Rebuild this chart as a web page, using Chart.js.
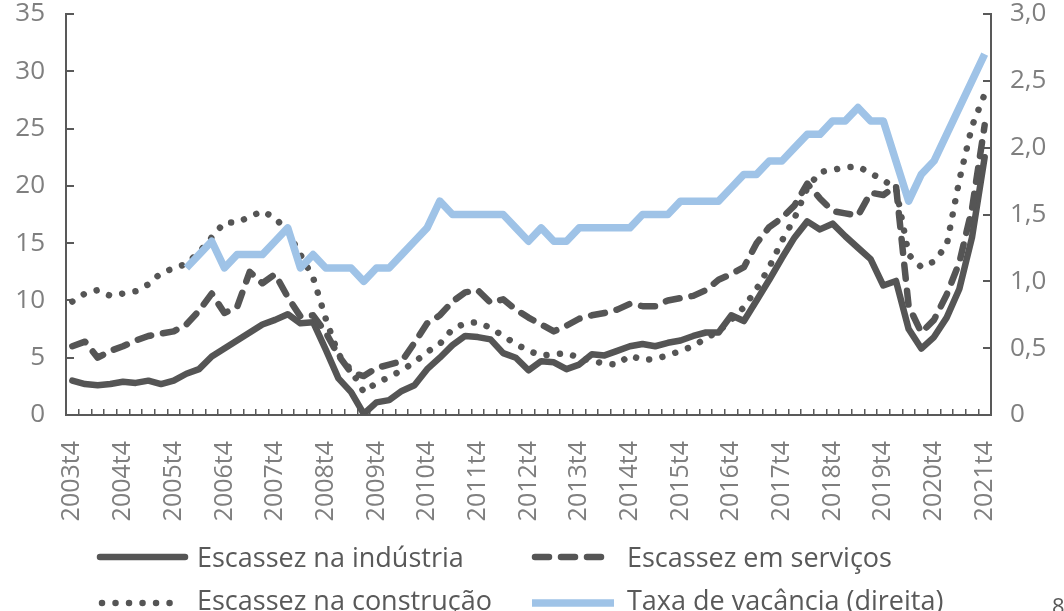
<!DOCTYPE html>
<html lang="pt">
<head>
<meta charset="utf-8">
<title>Escassez de mão de obra e taxa de vacância</title>
<script src="https://cdn.jsdelivr.net/npm/chart.js@4.4.1/dist/chart.umd.min.js"></script>
<style>
  html, body { margin: 0; padding: 0; background: #fff; overflow: hidden; }
  #wrap { position: relative; width: 1064px; height: 611px; overflow: hidden; }
  #chart { position: absolute; left: 0; top: 0; }
  .lg-text { position: absolute; font-family: 'Open Sans', sans-serif; font-size: 27px; line-height: 30px; color: #595959; white-space: nowrap; }
  .lg-line { position: absolute; }
  #pagenum { position: absolute; left: 1052px; top: 590px; font-family: 'Open Sans', sans-serif; font-size: 22px; color: #595959; }
</style>
</head>
<body>
<div id="wrap">
  <canvas id="chart" width="1064" height="611"></canvas>
  <div id="legend"></div>
  <div id="pagenum">8</div>
</div>
<script>
// rótulos trimestrais 2003t4 ... 2021t4
const quarters = [];
for (let y = 2003; y <= 2021; y++) {
  for (let q = 1; q <= 4; q++) {
    if (y === 2003 && q < 4) continue;
    quarters.push(y + 't' + q);
  }
}

// eixo esquerdo (%)
const industria = [3.0, 2.7, 2.6, 2.7, 2.9, 2.8, 3.0, 2.7, 3.0, 3.6,
  4.0, 5.1, 5.8, 6.5, 7.2, 7.9, 8.3, 8.8, 8.0, 8.1,
  5.7, 3.2, 2.0, 0.1, 1.1, 1.3, 2.1, 2.6, 4.0, 5.0,
  6.1, 6.9, 6.8, 6.6, 5.4, 5.0, 3.9, 4.7, 4.6, 4.0,
  4.4, 5.3, 5.2, 5.6, 6.0, 6.2, 6.0, 6.3, 6.5, 6.9,
  7.2, 7.2, 8.7, 8.2, 10.0, 11.8, 13.7, 15.5, 16.9, 16.2,
  16.7, 15.6, 14.6, 13.6, 11.3, 11.7, 7.5, 5.8, 6.8, 8.5,
  11.0, 15.5, 22.5];

const servicos = [6.0, 6.4, 5.0, 5.6, 6.0, 6.5, 6.9, 7.1, 7.3, 7.9,
  9.1, 10.6, 8.9, 9.4, 12.5, 11.5, 12.3, 10.3, 8.6, 8.7,
  7.2, 5.2, 3.7, 3.4, 4.1, 4.4, 4.7, 6.3, 8.0, 8.7,
  9.9, 10.7, 10.9, 9.8, 10.1, 9.2, 8.5, 7.9, 7.3, 7.8,
  8.4, 8.7, 8.9, 9.2, 9.7, 9.5, 9.5, 10.0, 10.2, 10.4,
  10.9, 11.8, 12.3, 12.9, 15.0, 16.4, 17.2, 18.3, 20.2, 18.9,
  17.8, 17.6, 17.4, 19.4, 19.2, 20.0, 9.5, 7.2, 8.3, 10.5,
  13.3, 18.0, 25.3];

const construcao = [9.9, 10.6, 10.9, 10.4, 10.6, 10.8, 11.4, 12.4, 12.8, 13.2,
  14.2, 15.5, 16.8, 16.8, 17.3, 17.8, 17.2, 16.0, 14.0, 12.0,
  8.4, 5.3, 3.9, 2.0, 2.8, 3.3, 3.9, 4.6, 5.5, 6.2,
  7.5, 8.0, 8.1, 7.6, 6.9, 6.2, 5.6, 5.2, 5.3, 5.4,
  5.0, 4.7, 4.5, 4.4, 5.2, 4.8, 4.9, 5.2, 5.6, 6.0,
  6.7, 7.3, 8.3, 9.4, 11.0, 12.9, 15.2, 17.2, 19.8, 21.2,
  21.4, 21.6, 21.7, 21.1, 20.5, 19.8, 14.0, 12.9, 13.4, 14.8,
  20.5, 25.2, 28.0];

// eixo direito (%)
const vacancia = [null, null, null, null, null, null, null, null, null, 1.1,
  1.2, 1.3, 1.1, 1.2, 1.2, 1.2, 1.3, 1.4, 1.1, 1.2,
  1.1, 1.1, 1.1, 1.0, 1.1, 1.1, 1.2, 1.3, 1.4, 1.6,
  1.5, 1.5, 1.5, 1.5, 1.5, 1.4, 1.3, 1.4, 1.3, 1.3,
  1.4, 1.4, 1.4, 1.4, 1.4, 1.5, 1.5, 1.5, 1.6, 1.6,
  1.6, 1.6, 1.7, 1.8, 1.8, 1.9, 1.9, 2.0, 2.1, 2.1,
  2.2, 2.2, 2.3, 2.2, 2.2, 1.9, 1.6, 1.8, 1.9, 2.1,
  2.3, 2.5, 2.7];

const DARK = '#555555';
const BLUE = '#9fc3e7';
const AXIS = '#595959';
const TICK_TXT = '#7f7f7f';

const datasets = [
  { label: 'Escassez na indústria', data: industria, yAxisID: 'y',
    borderColor: DARK, borderWidth: 6.5, borderJoinStyle: 'round', borderCapStyle: 'round', order: 4 },
  { label: 'Escassez em serviços', data: servicos, yAxisID: 'y',
    borderColor: DARK, borderWidth: 6.5, borderDash: [14, 12], borderCapStyle: 'round', borderJoinStyle: 'round', order: 3 },
  { label: 'Escassez na construção', data: construcao, yAxisID: 'y',
    borderColor: DARK, borderWidth: 6.5, borderDash: [0.01, 13.5], borderCapStyle: 'round', borderJoinStyle: 'round', order: 2 },
  { label: 'Taxa de vacância (direita)', data: vacancia, yAxisID: 'y1',
    borderColor: BLUE, borderWidth: 7.5, borderJoinStyle: 'round', borderCapStyle: 'butt', order: 1 }
];

const tickFont = { family: "'Open Sans', sans-serif", size: 26, lineHeight: 1 };

// tira o espaço extra que o Chart.js reserva acima/abaixo dos eixos verticais
function fixVertical(width) {
  return s => { s.width = width; s.paddingTop = 0; s.paddingBottom = 0; };
}

new Chart(document.getElementById('chart').getContext('2d'), {
  type: 'line',
  data: { labels: quarters, datasets: datasets },
  options: {
    responsive: false,
    animation: false,
    devicePixelRatio: 1,
    layout: { padding: { top: 14, bottom: 81, left: 0, right: 0 } },
    plugins: { legend: { display: false }, tooltip: { enabled: false } },
    elements: { point: { radius: 0 }, line: { tension: 0, fill: false } },
    scales: {
      x: {
        type: 'category',
        offset: true,
        grid: { offset: true, drawOnChartArea: false, tickLength: -6, color: AXIS, lineWidth: 1.5 },
        border: { display: true, color: AXIS, width: 2 },
        ticks: {
          autoSkip: false, maxRotation: 90, minRotation: 90, padding: 32,
          color: TICK_TXT, font: { family: "'Open Sans', sans-serif", size: 25 },
          callback: function(v, i) { const l = quarters[i]; return l.endsWith('t4') ? l : ''; }
        },
        afterFit: s => { s.height = 115; }
      },
      y: {
        position: 'left', min: 0, max: 35,
        grid: { drawOnChartArea: false, tickLength: -8, color: AXIS, lineWidth: 2 },
        border: { display: true, color: AXIS, width: 2 },
        ticks: { stepSize: 5, padding: 29, color: TICK_TXT, font: tickFont },
        afterFit: fixVertical(66)
      },
      y1: {
        position: 'right', min: 0, max: 3,
        grid: { drawOnChartArea: false, tickLength: -8, color: AXIS, lineWidth: 2 },
        border: { display: true, color: AXIS, width: 2 },
        ticks: {
          stepSize: 0.5, padding: 27, color: TICK_TXT, font: tickFont,
          callback: v => v === 0 ? '0' : v.toFixed(1).replace('.', ',')
        },
        afterFit: fixVertical(73)
      }
    }
  }
});

// legenda em duas colunas, como no original
const legendSlots = [
  { lineX: 100, lineW: 85, lineY: 557, textX: 197, textY: 542 },
  { lineX: 535, lineW: 76, lineY: 557, textX: 627, textY: 542 },
  { lineX: 102, lineW: 76, lineY: 603, textX: 197, textY: 585 },
  { lineX: 532, lineW: 82, lineY: 603, textX: 627, textY: 585 }
];

const legend = document.getElementById('legend');
datasets.forEach((ds, i) => {
  const slot = legendSlots[i];
  const svgNS = 'http://www.w3.org/2000/svg';
  const svg = document.createElementNS(svgNS, 'svg');
  svg.setAttribute('class', 'lg-line');
  svg.setAttribute('width', slot.lineW + 12);
  svg.setAttribute('height', 20);
  svg.style.left = (slot.lineX - 6) + 'px';
  svg.style.top = (slot.lineY - 10) + 'px';
  const line = document.createElementNS(svgNS, 'line');
  line.setAttribute('x1', 6);
  line.setAttribute('x2', 6 + slot.lineW);
  line.setAttribute('y1', 10);
  line.setAttribute('y2', 10);
  line.setAttribute('stroke', ds.borderColor);
  line.setAttribute('stroke-width', ds.borderWidth);
  line.setAttribute('stroke-linecap', ds.borderCapStyle || 'butt');
  if (ds.borderDash) line.setAttribute('stroke-dasharray', ds.borderDash.join(' '));
  svg.appendChild(line);
  legend.appendChild(svg);

  const txt = document.createElement('div');
  txt.className = 'lg-text';
  txt.style.left = slot.textX + 'px';
  txt.style.top = slot.textY + 'px';
  txt.textContent = ds.label;
  legend.appendChild(txt);
});
</script>
</body>
</html>
